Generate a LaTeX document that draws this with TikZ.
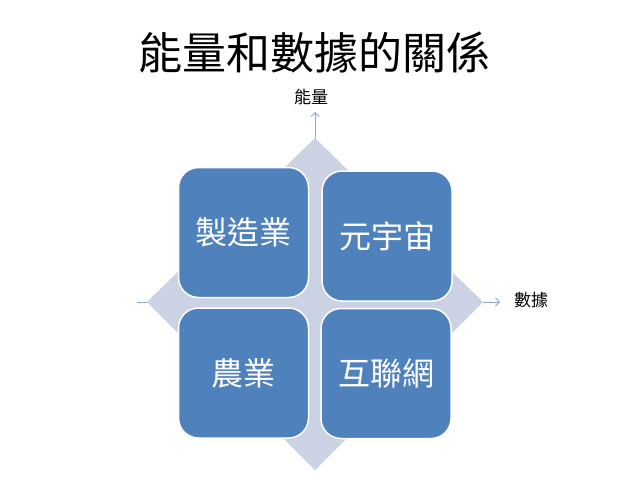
\documentclass[tikz,border=0pt]{standalone}
\usepackage{fontspec}
\usetikzlibrary{arrows.meta}
\newfontfamily\cjk{Noto Sans CJK TC}
\definecolor{boxblue}{HTML}{4F81BD}
\definecolor{diam}{HTML}{CBD2E3}
\definecolor{axis}{HTML}{8EA6CC}
\begin{document}
\begin{tikzpicture}[x=1pt,y=-1pt,
  quad/.style={draw=white,line width=1.5pt,fill=boxblue,rounded corners=20pt,minimum width=130pt,minimum height=130pt,inner sep=0pt,text=white,font=\cjk\fontsize{32}{32}\selectfont},
  axlabel/.style={font=\cjk\fontsize{17}{17}\selectfont,text=black,inner sep=0pt},
  axarrow/.style={draw=axis,line width=0.8pt,-{Straight Barb[length=4pt,width=8pt]}}]
\useasboundingbox (0,0) rectangle (640,503);
\fill[white] (0,0) rectangle (640,503);
\node[font=\cjk\fontsize{44}{44}\selectfont,inner sep=0pt] (title) at (314,52) {能量和數據的關係};
% diamond
\coordinate (dT) at (315,138);
\coordinate (dR) at (483,302);
\coordinate (dB) at (315,470);
\coordinate (dL) at (147,302);
\fill[diam] (dT) -- (dR) -- (dB) -- (dL) -- cycle;
% axes
\coordinate (hL) at (137,302);
\coordinate (hR) at (500,302);
\coordinate (vT) at (315,112);
\draw[axarrow] (dR) -- (hR);
\draw[axis,line width=0.8pt] (hL) -- (dL);
\draw[axarrow] (dT) -- (vT);
\node[axlabel] (ylab) at (311,97) {能量};
\node[axlabel,anchor=west] (xlab) at (514,300) {數據};
% quads
\node[quad] (tl) at (243.5,232.5) {製造業};
\node[quad] (tr) at (387,236) {元宇宙};
\node[quad] (bl) at (243.5,373) {農業};
\node[quad] (br) at (386,373.5) {互聯網};
\end{tikzpicture}
\end{document}
